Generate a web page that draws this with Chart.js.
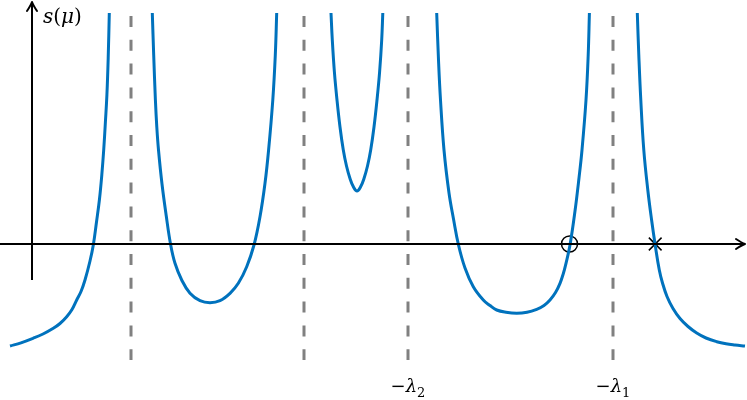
<!DOCTYPE html>
<html><head><meta charset="utf-8">
<script src="https://cdn.jsdelivr.net/npm/chart.js@4"></script>
<style>html,body{margin:0;padding:0;background:#fff}#wrap{width:747px;height:400px}</style>
</head><body><div id="wrap"><canvas id="c" width="747" height="400"></canvas></div>
<script>
// ---- data (math units) ----
const poles = [0.99, 2.72, 3.76, 5.81];
const poleLabels = ['', '', '2', '1']; // subscript of −λ label, empty = no label
const branch1 = [[-0.22,-1.02],[-0.11,-0.988],[0.01,-0.943],[0.11,-0.90],[0.213,-0.843],[0.28,-0.795],[0.347,-0.727],[0.40,-0.655],[0.447,-0.56],[0.49,-0.475],[0.53,-0.36],[0.58,-0.17],[0.613,-0.01],[0.645,0.22],[0.675,0.45],[0.698,0.69],[0.717,0.94],[0.734,1.22],[0.749,1.49],[0.762,1.86],[0.773,2.31]];
const branch2 = [[1.203,2.31],[1.217,1.89],[1.234,1.44],[1.248,1.17],[1.265,0.94],[1.30,0.60],[1.342,0.285],[1.387,-0.01],[1.43,-0.193],[1.497,-0.36],[1.58,-0.493],[1.68,-0.567],[1.78,-0.587],[1.88,-0.567],[1.98,-0.493],[2.063,-0.393],[2.147,-0.227],[2.22,-0.01],[2.28,0.273],[2.33,0.607],[2.366,0.94],[2.408,1.44],[2.433,1.89],[2.447,2.31]];
const branch3 = [[2.99,2.31],[3.003,2.04],[3.024,1.72],[3.05,1.44],[3.08,1.17],[3.113,0.94],[3.145,0.78],[3.18,0.655],[3.215,0.57],[3.25,0.53],[3.285,0.57],[3.32,0.655],[3.355,0.78],[3.387,0.94],[3.42,1.17],[3.45,1.44],[3.476,1.72],[3.497,2.04],[3.508,2.31]];
const branch4 = [[4.047,2.31],[4.065,1.84],[4.085,1.44],[4.12,0.94],[4.17,0.51],[4.215,0.25],[4.265,-0.01],[4.33,-0.24],[4.413,-0.427],[4.513,-0.56],[4.58,-0.615],[4.647,-0.66],[4.74,-0.683],[4.847,-0.693],[4.95,-0.683],[5.047,-0.653],[5.12,-0.615],[5.18,-0.56],[5.235,-0.485],[5.28,-0.393],[5.312,-0.30],[5.34,-0.193],[5.38,-0.01],[5.43,0.33],[5.47,0.66],[5.50,0.94],[5.54,1.44],[5.562,1.89],[5.574,2.31]];
const branch5 = [[6.053,2.31],[6.068,1.89],[6.088,1.44],[6.118,0.94],[6.158,0.54],[6.196,0.24],[6.232,-0.01],[6.273,-0.26],[6.305,-0.39],[6.35,-0.525],[6.41,-0.645],[6.48,-0.745],[6.56,-0.825],[6.647,-0.89],[6.74,-0.94],[6.847,-0.977],[6.94,-0.998],[7.03,-1.01],[7.13,-1.02]];
const circleMark = [5.375, 0];
const crossMark = [6.232, 0];
const xRange = [-0.32, 7.15];
const yRange = [-1.56, 2.44];
const xAxisExtent = [-0.32, 7.13];
const yAxisExtent = [-0.36, 2.42];
const poleSpan = [2.28, -1.16];

const toPts = a => a.map(p => ({x:p[0], y:p[1]}));
const blue = '#0072BD';
const datasets = [];
// axes lines
datasets.push({data:[{x:xAxisExtent[0],y:0},{x:xAxisExtent[1],y:0}], borderColor:'#000', borderWidth:2, pointRadius:0, showLine:true});
datasets.push({data:[{x:0,y:yAxisExtent[0]},{x:0,y:yAxisExtent[1]}], borderColor:'#000', borderWidth:2, pointRadius:0, showLine:true});
poles.forEach(p => datasets.push({data:[{x:p,y:poleSpan[0]},{x:p,y:poleSpan[1]}], borderColor:'#808080', borderWidth:3, borderDash:[11,12.8], pointRadius:0, showLine:true}));
[branch1,branch2,branch3,branch4,branch5].forEach(b => datasets.push({data:toPts(b), borderColor:blue, borderWidth:3, pointRadius:0, showLine:true, tension:0.4, capBezierPoints:false}));
datasets.push({data:[{x:circleMark[0],y:circleMark[1]}], pointStyle:'circle', pointRadius:8, borderColor:'#000', backgroundColor:'rgba(0,0,0,0)', pointBorderWidth:1.5, showLine:false});
datasets.push({data:[{x:crossMark[0],y:crossMark[1]}], pointStyle:'crossRot', pointRadius:9, borderColor:'#000', pointBorderWidth:1.5, showLine:false});

const deco = {
  id:'deco',
  afterDatasetsDraw(chart){
    const ctx = chart.ctx, xs = chart.scales.x, ys = chart.scales.y;
    ctx.save();
    ctx.strokeStyle = '#000'; ctx.lineWidth = 2; ctx.lineCap='round'; ctx.lineJoin='round';
    // x arrow
    let tx = xs.getPixelForValue(xAxisExtent[1]), ty = ys.getPixelForValue(0);
    ctx.beginPath(); ctx.moveTo(tx-9,ty-5); ctx.quadraticCurveTo(tx-3,ty-1,tx,ty); ctx.quadraticCurveTo(tx-3,ty+1,tx-9,ty+5); ctx.stroke();
    // y arrow
    tx = xs.getPixelForValue(0); ty = ys.getPixelForValue(yAxisExtent[1]);
    ctx.beginPath(); ctx.moveTo(tx-5,ty+9); ctx.quadraticCurveTo(tx-1,ty+3,tx,ty); ctx.quadraticCurveTo(tx+1,ty+3,tx+5,ty+9); ctx.stroke();
    // y label s(μ)
    ctx.fillStyle = '#000'; ctx.textBaseline='alphabetic';
    let x = tx + 11, y = 23;
    const parts = [['italic 20px "DejaVu Serif"','s'],['20px "DejaVu Serif"','('],['italic 20px "DejaVu Serif"','μ'],['20px "DejaVu Serif"',')']];
    parts.forEach(([f,t]) => { ctx.font = f; ctx.fillText(t, x, y); x += ctx.measureText(t).width; });
    // pole labels
    poles.forEach((p,i) => {
      const sub = poleLabels[i]; if (!sub) return;
      ctx.font = '18px "DejaVu Serif"';
      const w1 = ctx.measureText('−').width;
      ctx.font = 'italic 18px "DejaVu Serif"';
      const w2 = ctx.measureText('λ').width;
      ctx.font = '13px "DejaVu Serif"';
      const w3 = ctx.measureText(sub).width;
      let cx = xs.getPixelForValue(p) - (w1+w2+w3)/2, by = 392;
      ctx.font = '18px "DejaVu Serif"'; ctx.fillText('−', cx, by); cx += w1;
      ctx.font = 'italic 18px "DejaVu Serif"'; ctx.fillText('λ', cx, by); cx += w2;
      ctx.font = '13px "DejaVu Serif"'; ctx.fillText(sub, cx, by+5);
    });
    ctx.restore();
  }
};

new Chart(document.getElementById('c'), {
  type:'scatter',
  data:{datasets},
  options:{
    responsive:false, animation:false, devicePixelRatio:1,
    layout:{padding:0, autoPadding:false},
    plugins:{legend:{display:false}, tooltip:{enabled:false}},
    scales:{
      x:{type:'linear', min:xRange[0], max:xRange[1], display:false},
      y:{type:'linear', min:yRange[0], max:yRange[1], display:false}
    },
    elements:{line:{borderCapStyle:'butt'}}
  },
  plugins:[deco]
});
</script></body></html>
